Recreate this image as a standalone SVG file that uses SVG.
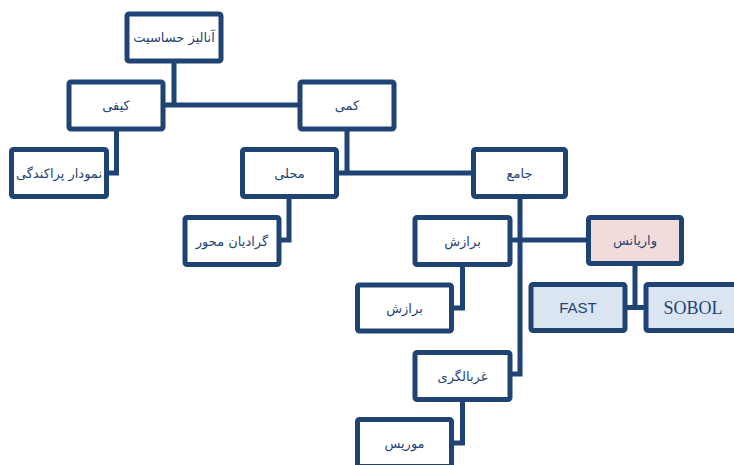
<svg xmlns="http://www.w3.org/2000/svg" width="734" height="465" viewBox="0 0 734 465">
<style>
.box{fill:#ffffff;stroke:#1f4373;stroke-width:5;}
.pink{fill:#f2dcdb;}
.blue{fill:#dbe5f1;}
.t{font-family:"DejaVu Sans","Noto Sans",sans-serif;font-size:13px;fill:#1f4373;text-anchor:middle;dominant-baseline:central;}
.lat{font-family:"Liberation Sans",sans-serif;font-size:15px;}
.ser{font-family:"Liberation Serif",serif;font-size:18px;}
.c{fill:none;stroke:#1f4373;stroke-width:5;stroke-linejoin:miter;}
</style>
<rect width="734" height="465" fill="#ffffff"/>
<g id="connectors">
<path class="c" d="M174,61 V105 M163.5,105 H300"/>
<path class="c" d="M116.5,129 V173 H106.5"/>
<path class="c" d="M347,129 V173 M336.5,173 H473.5"/>
<path class="c" d="M289,196.5 V240 H279"/>
<path class="c" d="M520,196.5 V374 H510 M510,240 H588.5"/>
<path class="c" d="M462.5,264.5 V308 H451.5"/>
<path class="c" d="M635,263.5 V307.5 M625,307.5 H646"/>
<path class="c" d="M462.5,399.5 V443 H451.5"/>
</g>
<g id="root"><rect class="box" x="127" y="14" width="94" height="47" rx="2"/><text class="t" x="174" y="37.5">آنالیز حساسیت</text></g>
<g id="kifi"><rect class="box" x="69" y="82" width="94" height="47" rx="2"/><text class="t" x="116" y="105">کیفی</text></g>
<g id="kami"><rect class="box" x="300" y="82" width="94" height="47" rx="2"/><text class="t" x="347" y="105">کمی</text></g>
<g id="namudar"><rect class="box" x="11.5" y="149.5" width="95" height="47" rx="2"/><text class="t" x="59" y="173">نمودار پراکندگی</text></g>
<g id="mahali"><rect class="box" x="242.5" y="149.5" width="94" height="47" rx="2"/><text class="t" x="289.5" y="173">محلی</text></g>
<g id="jame"><rect class="box" x="473.5" y="149.5" width="92" height="47" rx="2"/><text class="t" x="519.5" y="173">جامع</text></g>
<g id="gradian"><rect class="box" x="185" y="217.5" width="94" height="47" rx="2"/><text class="t" x="232" y="241">گرادیان محور</text></g>
<g id="barazesh1"><rect class="box" x="415" y="217.5" width="95" height="47" rx="2"/><text class="t" x="462.5" y="241">برازش</text></g>
<g id="variance"><rect class="box pink" x="588.5" y="217.5" width="93" height="46" rx="2"/><text class="t" x="635" y="240.5">واریانس</text></g>
<g id="barazesh2"><rect class="box" x="357.5" y="285" width="94" height="46" rx="2"/><text class="t" x="404.5" y="308">برازش</text></g>
<g id="fast"><rect class="box blue" x="531" y="284.5" width="94" height="46" rx="2"/><text class="t lat" x="578" y="307.5">FAST</text></g>
<g id="sobol"><rect class="box blue" x="646" y="284.5" width="94" height="46" rx="2"/><text class="t ser" x="693" y="307.5">SOBOL</text></g>
<g id="gharbalgari"><rect class="box" x="415" y="352.5" width="95" height="47" rx="2"/><text class="t" x="462.5" y="376">غربالگری</text></g>
<g id="moris"><rect class="box" x="357.5" y="419.5" width="94" height="47" rx="2"/><text class="t" x="404.5" y="443">موریس</text></g>
</svg>
